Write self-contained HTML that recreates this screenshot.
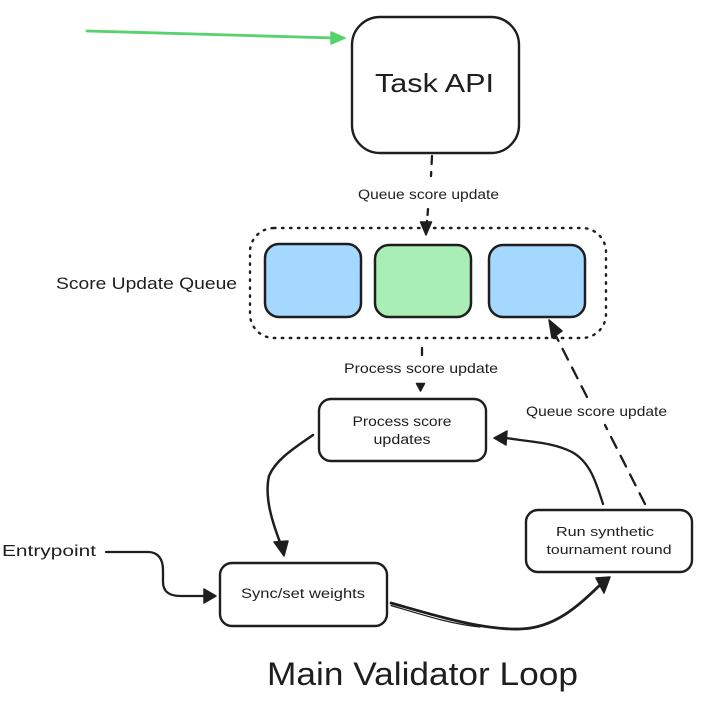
<!DOCTYPE html>
<html>
<head>
<meta charset="utf-8">
<style>
html,body{margin:0;padding:0;background:#fff;width:720px;height:717px;overflow:hidden}
svg{display:block;filter:blur(0.35px)}
text{font-family:"Liberation Sans",sans-serif;fill:#1e1e1e}
.b{fill:#fff;stroke:#1e1e1e;stroke-width:2.4}
.l{fill:none;stroke:#1e1e1e;stroke-width:2.3;stroke-linecap:round;stroke-linejoin:round}
.h{fill:#1e1e1e;stroke:#1e1e1e;stroke-width:1.5;stroke-linejoin:round}
</style>
</head>
<body>
<svg width="720" height="717" viewBox="0 0 720 717" xmlns="http://www.w3.org/2000/svg">
<rect width="720" height="717" fill="#fff"/>

<!-- Task API -->
<rect class="b" x="352" y="17" width="167" height="136" rx="28"/>
<text x="375" y="92" font-size="26" textLength="119" lengthAdjust="spacingAndGlyphs">Task API</text>

<!-- Green arrow -->
<path d="M87 31 L335 38" fill="none" stroke="#57d26f" stroke-width="2.8" stroke-linecap="round"/>
<path d="M331 32 L345 38 L331 44 Z" fill="#57d26f" stroke="#57d26f" stroke-width="1.5" stroke-linejoin="round"/>

<!-- Task API to queue -->
<path class="l" d="M432 156 L431 176" stroke-dasharray="8 8"/>
<path class="l" d="M428 209 L427 222" stroke-dasharray="6 6"/>
<path class="h" d="M420.500 222 L431.500 222 L426 235 Z"/>
<text x="358" y="199" font-size="13.5" textLength="141" lengthAdjust="spacingAndGlyphs">Queue score update</text>

<!-- Queue container -->
<rect x="250" y="228" width="356" height="110" rx="24" fill="none" stroke="#1e1e1e" stroke-width="2.4" stroke-dasharray="1.5 6.5" stroke-linecap="round"/>
<rect x="265" y="244" width="96" height="73" rx="14" fill="#a5d8ff" stroke="#1e1e1e" stroke-width="2.5"/>
<rect x="375" y="245" width="96" height="72" rx="14" fill="#a9efb5" stroke="#1e1e1e" stroke-width="2.5"/>
<rect x="489" y="245" width="96" height="72" rx="14" fill="#a5d8ff" stroke="#1e1e1e" stroke-width="2.5"/>
<text x="56" y="289" font-size="17" textLength="181" lengthAdjust="spacingAndGlyphs">Score Update Queue</text>

<!-- Queue to process -->
<path class="l" d="M422 348 L422 355"/>
<text x="344" y="373" font-size="14" textLength="154" lengthAdjust="spacingAndGlyphs">Process score update</text>
<path class="h" d="M416.500 383.500 L424.500 383.500 L420.500 391 Z"/>

<!-- Process box -->
<rect class="b" x="319" y="399" width="167" height="62" rx="12"/>
<text x="402" y="426" font-size="13.500" text-anchor="middle" textLength="99" lengthAdjust="spacingAndGlyphs">Process score</text>
<text x="402" y="444" font-size="13.500" text-anchor="middle" textLength="57" lengthAdjust="spacingAndGlyphs">updates</text>

<!-- Run box -->
<rect class="b" x="526" y="510" width="166" height="62" rx="12"/>
<text x="605" y="536" font-size="13" text-anchor="middle" textLength="98" lengthAdjust="spacingAndGlyphs">Run synthetic</text>
<text x="609" y="554" font-size="13" text-anchor="middle" textLength="125" lengthAdjust="spacingAndGlyphs">tournament round</text>

<!-- Sync box -->
<rect class="b" x="220" y="563" width="167" height="63" rx="12"/>
<text x="303" y="598" font-size="13.500" text-anchor="middle" textLength="124" lengthAdjust="spacingAndGlyphs">Sync/set weights</text>

<!-- Queue update dashed -->
<path class="l" d="M645 504 L605 425" stroke-dasharray="12 9"/>
<path class="l" d="M587 397 L556 336" stroke-dasharray="12 9"/>
<path class="h" d="M549 320 L562 331 L552 338 Z" stroke-width="2"/>
<text x="526" y="416" font-size="14" textLength="141" lengthAdjust="spacingAndGlyphs">Queue score update</text>

<!-- Run to Process -->
<path class="l" d="M603 504 C596 482 590 462 572 452 C552 442 530 442 506 438"/>
<path class="h" d="M507 431 L494 438 L506 445 Z" stroke-width="2"/>

<!-- Process to Sync -->
<path d="M313 435 C296 447 276 459 269 476 C264 498 273 524 281 545" fill="none" stroke="#1e1e1e" stroke-width="2.500" stroke-linecap="round"/>
<path class="h" d="M274 542 L288 541 L284 556 Z" stroke-width="2"/>

<!-- Entrypoint -->
<text x="2" y="556" font-size="16" textLength="94" lengthAdjust="spacingAndGlyphs">Entrypoint</text>
<path class="l" d="M106 552 L148 552 C158 552 163 559 163 570 L163 582 C163 592 170 596 180 596 L204 596"/>
<path class="h" d="M204 589 L216 596 L204 603 Z" stroke-width="2"/>

<!-- Sync to Run -->
<path d="M391 603 C430 614 480 630 520 629 C555 628 578 606 600 585" fill="none" stroke="#1e1e1e" stroke-width="2.800" stroke-linecap="round"/>
<path d="M391 605.500 C420 614 450 624 480 627" fill="none" stroke="#1e1e1e" stroke-width="1.200" stroke-linecap="round"/>
<path class="h" d="M596 578 L610 577 L604 593 Z" stroke-width="2"/>

<!-- Title -->
<text x="267" y="685" font-size="32" textLength="311" lengthAdjust="spacingAndGlyphs">Main Validator Loop</text>
</svg>
</body>
</html>
